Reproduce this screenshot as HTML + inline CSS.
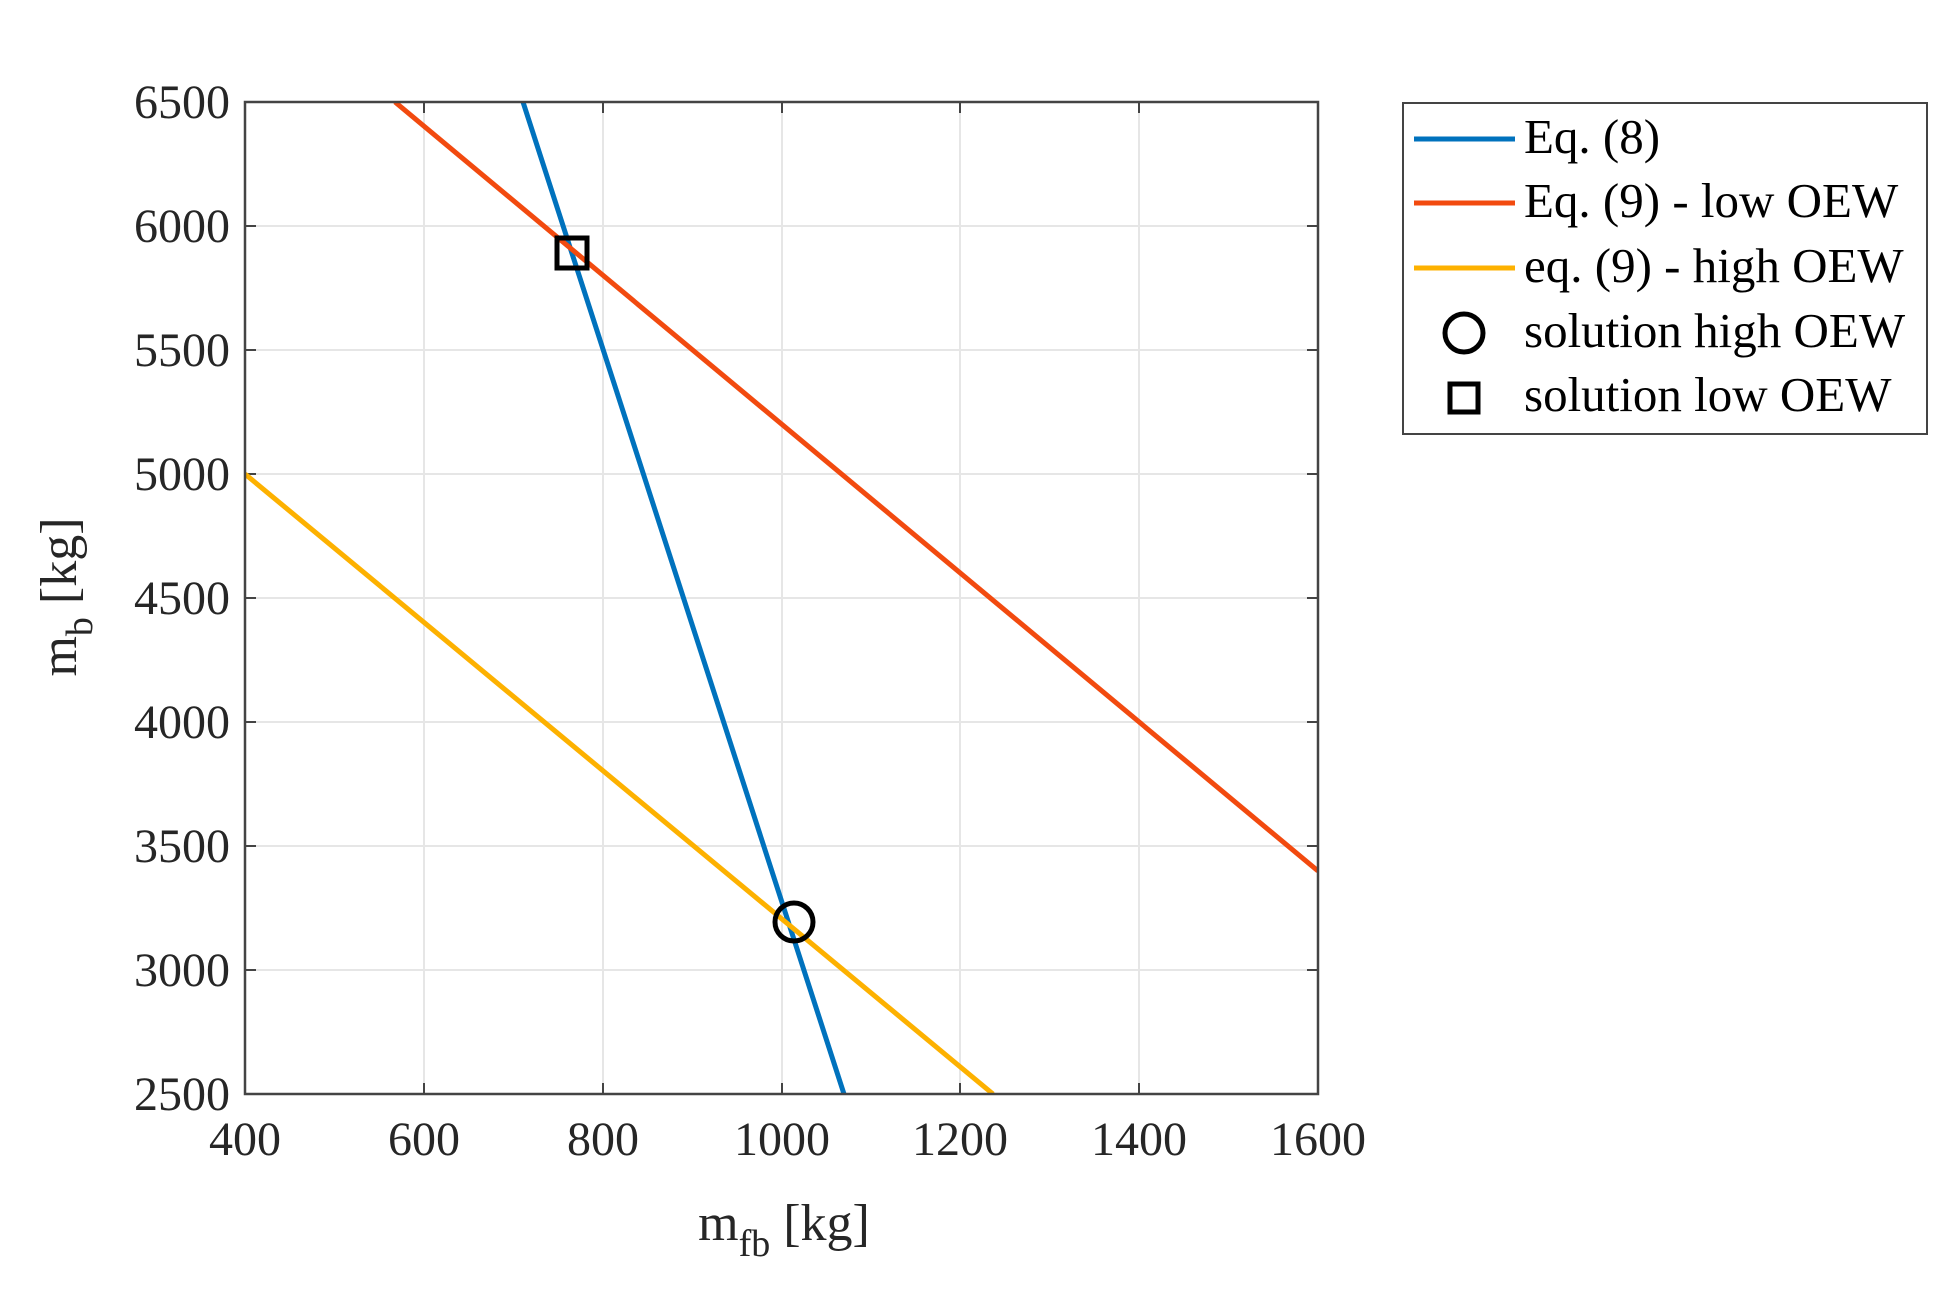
<!DOCTYPE html>
<html><head><meta charset="utf-8"><style>body{margin:0;background:#fff}</style></head><body>
<svg width="1941" height="1310" xmlns="http://www.w3.org/2000/svg" font-family="Liberation Serif, serif" fill="#262626">
<g stroke="#e6e6e6" stroke-width="2">
<line x1="424" y1="102" x2="424" y2="1094"/><line x1="603" y1="102" x2="603" y2="1094"/><line x1="782" y1="102" x2="782" y2="1094"/><line x1="960" y1="102" x2="960" y2="1094"/><line x1="1139" y1="102" x2="1139" y2="1094"/>
<line x1="245" y1="226" x2="1318" y2="226"/><line x1="245" y1="350" x2="1318" y2="350"/><line x1="245" y1="474" x2="1318" y2="474"/><line x1="245" y1="598" x2="1318" y2="598"/><line x1="245" y1="722" x2="1318" y2="722"/><line x1="245" y1="846" x2="1318" y2="846"/><line x1="245" y1="970" x2="1318" y2="970"/>
</g>
<g stroke="#444" stroke-width="2">
<line x1="424" y1="1094" x2="424" y2="1083"/><line x1="603" y1="1094" x2="603" y2="1083"/><line x1="782" y1="1094" x2="782" y2="1083"/><line x1="960" y1="1094" x2="960" y2="1083"/><line x1="1139" y1="1094" x2="1139" y2="1083"/>
<line x1="424" y1="102" x2="424" y2="113"/><line x1="603" y1="102" x2="603" y2="113"/><line x1="782" y1="102" x2="782" y2="113"/><line x1="960" y1="102" x2="960" y2="113"/><line x1="1139" y1="102" x2="1139" y2="113"/>
<line x1="245" y1="226" x2="256" y2="226"/><line x1="245" y1="350" x2="256" y2="350"/><line x1="245" y1="474" x2="256" y2="474"/><line x1="245" y1="598" x2="256" y2="598"/><line x1="245" y1="722" x2="256" y2="722"/><line x1="245" y1="846" x2="256" y2="846"/><line x1="245" y1="970" x2="256" y2="970"/>
<line x1="1318" y1="226" x2="1307" y2="226"/><line x1="1318" y1="350" x2="1307" y2="350"/><line x1="1318" y1="474" x2="1307" y2="474"/><line x1="1318" y1="598" x2="1307" y2="598"/><line x1="1318" y1="722" x2="1307" y2="722"/><line x1="1318" y1="846" x2="1307" y2="846"/><line x1="1318" y1="970" x2="1307" y2="970"/>
</g>
<svg x="245" y="102" width="1073" height="992" overflow="hidden">
<g stroke-width="5" fill="none" transform="translate(-245,-102)">
<line x1="523" y1="102" x2="844" y2="1094" stroke="#0072bd"/>
<line x1="395" y1="102" x2="1318" y2="871" stroke="#f24a0f"/>
<line x1="245" y1="474" x2="993" y2="1094" stroke="#fdb100"/>
</g></svg>
<rect x="245" y="102" width="1073" height="992" fill="none" stroke="#444" stroke-width="2.5"/>
<rect x="557" y="238" width="30" height="30" fill="none" stroke="#000" stroke-width="5"/>
<circle cx="794" cy="922" r="19" fill="none" stroke="#000" stroke-width="5"/>
<g font-size="48" text-anchor="end">
<text x="230" y="118">6500</text><text x="230" y="242">6000</text><text x="230" y="366">5500</text><text x="230" y="490">5000</text><text x="230" y="614">4500</text><text x="230" y="738">4000</text><text x="230" y="862">3500</text><text x="230" y="986">3000</text><text x="230" y="1110">2500</text>
</g>
<g font-size="48" text-anchor="middle">
<text x="245" y="1155">400</text><text x="424" y="1155">600</text><text x="603" y="1155">800</text><text x="782" y="1155">1000</text><text x="960" y="1155">1200</text><text x="1139" y="1155">1400</text><text x="1318" y="1155">1600</text>
</g>
<text x="784" y="1240" font-size="52" text-anchor="middle">m<tspan font-size="38" dy="16">fb</tspan><tspan dy="-16"> [kg]</tspan></text>
<text transform="translate(76,597) rotate(-90)" font-size="52" text-anchor="middle">m<tspan font-size="38" dy="16">b</tspan><tspan dy="-16"> [kg]</tspan></text>
<rect x="1403" y="103" width="524" height="331" fill="#fff" stroke="#444" stroke-width="2"/>
<g stroke-width="5">
<line x1="1414" y1="139" x2="1515" y2="139" stroke="#0072bd"/>
<line x1="1414" y1="203" x2="1515" y2="203" stroke="#f24a0f"/>
<line x1="1414" y1="268" x2="1515" y2="268" stroke="#fdb100"/>
</g>
<circle cx="1464" cy="333" r="19" fill="none" stroke="#000" stroke-width="5"/>
<rect x="1450" y="384" width="28" height="28" fill="none" stroke="#000" stroke-width="5"/>
<g font-size="49" fill="#000">
<text x="1524" y="153">Eq. (8)</text>
<text x="1524" y="217">Eq. (9) - low OEW</text>
<text x="1524" y="282">eq. (9) - high OEW</text>
<text x="1524" y="347">solution high OEW</text>
<text x="1524" y="411">solution low OEW</text>
</g>
</svg>
</body></html>
